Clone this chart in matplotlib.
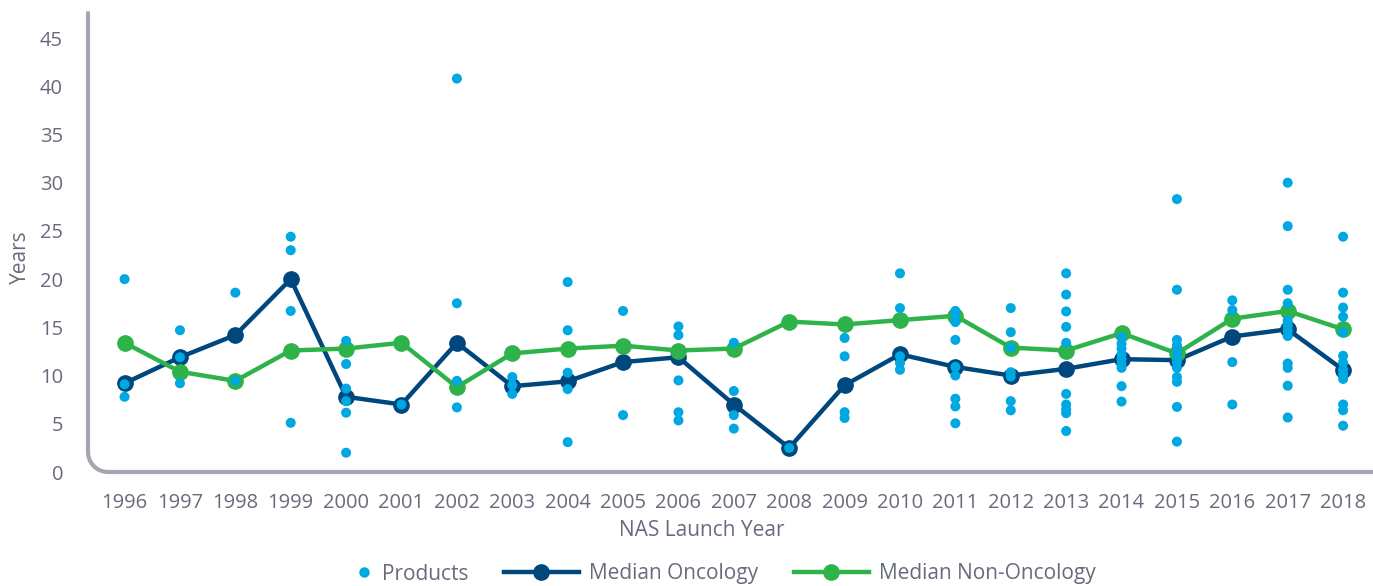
import numpy as np
import matplotlib.pyplot as plt
from matplotlib.lines import Line2D

plt.rcParams['font.family'] = ['Open Sans', 'DejaVu Sans']

years = list(range(1996, 2019))

median_oncology = [9.2, 11.9, 14.2, 20.0, 7.8, 7.0, 13.4, 8.9, 9.4, 11.4, 11.9, 7.0,
                   2.5, 9.0, 12.2, 10.9, 10.0, 10.7, 11.7, 11.6, 14.05, 14.8, 10.6]
median_non_oncology = [13.4, 10.4, 9.45, 12.6, 12.8, 13.4, 8.8, 12.3, 12.8, 13.1, 12.6, 12.8,
                       15.6, 15.3, 15.75, 16.2, 12.9, 12.6, 14.4, 12.3, 15.9, 16.7, 14.8]

products = {
    1996: [20.0, 9.1, 7.8],
    1997: [14.7, 11.9, 9.2],
    1998: [18.6, 9.45],
    1999: [24.4, 23.0, 16.7, 5.1],
    2000: [13.6, 11.2, 8.65, 7.35, 6.15, 2.0],
    2001: [7.0],
    2002: [40.8, 17.5, 9.45, 6.7],
    2003: [9.85, 9.0, 8.1],
    2004: [19.7, 14.7, 10.3, 8.6, 3.1],
    2005: [16.7, 5.9],
    2006: [15.1, 14.2, 9.5, 6.2, 5.35],
    2007: [13.4, 8.4, 5.9, 4.5],
    2008: [2.5],
    2009: [13.9, 12.0, 6.2, 5.6],
    2010: [20.6, 17.0, 12.0, 11.3, 10.6],
    2011: [16.7, 16.2, 15.55, 13.7, 10.9, 10.0, 7.6, 6.8, 5.05],
    2012: [17.0, 14.5, 12.9, 10.35, 9.9, 7.35, 6.4],
    2013: [20.6, 18.4, 16.65, 15.05, 13.4, 8.1, 7.0, 6.5, 6.1, 4.25],
    2014: [14.0, 13.3, 12.8, 12.2, 11.7, 11.2, 10.8, 8.9, 7.3],
    2015: [28.3, 18.9, 13.7, 13.15, 12.55, 12.05, 11.4, 10.8, 9.85, 9.35, 6.75, 3.15],
    2016: [17.8, 16.8, 11.4, 7.0],
    2017: [30.0, 25.5, 18.9, 17.5, 15.7, 15.2, 14.65, 14.1, 11.25, 10.8, 8.95, 5.65],
    2018: [24.4, 18.6, 17.05, 16.1, 14.5, 12.05, 11.35, 10.6, 10.15, 9.65, 7.0, 6.4, 4.8],
}

cyan = '#00a8e1'
navy = '#00477d'
green = '#2eb34b'
text_col = '#676b7c'
spine_col = '#a4a6b0'

px = []
py = []
for yr in years:
    for v in products[yr]:
        px.append(yr)
        py.append(v)

fig = plt.figure(figsize=(13.73, 5.86), dpi=100)
ax = fig.add_axes([88 / 1373, 114 / 586, 1 - 88 / 1373, (472 - 13) / 586])

ax.plot(years, median_oncology, color=navy, lw=3.2, marker='o', ms=11, zorder=3)
ax.plot(years, median_non_oncology, color=green, lw=3.2, marker='o', ms=11, zorder=4)
ax.scatter(px, py, s=52, color=cyan, edgecolors='none', zorder=5)

ax.set_xlim(1995.34, 2018.54)
ax.set_ylim(0, 47.6)
ax.set_xticks(years)
ax.set_yticks(range(0, 50, 5))
ax.tick_params(length=0, labelsize=14.5, colors=text_col)
ax.tick_params(axis='y', pad=18)
ax.tick_params(axis='x', pad=15)
for s in ax.spines.values():
    s.set_visible(False)

# rounded L-shaped axis line, built in pixel terms then mapped to axes fraction
w_px = 1373 - 88
h_px = 472 - 13
r = 20.0
t = np.linspace(np.pi, 1.5 * np.pi, 30)
arc_x = r + r * np.cos(t)
arc_y = r + r * np.sin(t)
path_x = np.concatenate([[0], arc_x, [w_px]]) / w_px
path_y = np.concatenate([[h_px], arc_y, [0]]) / h_px
ax.add_line(Line2D(path_x, path_y, transform=ax.transAxes, color=spine_col,
                   lw=3.0, solid_capstyle='round', clip_on=False, zorder=1))

fig.text(20 / 1373, 1 - 257 / 586, 'Years', rotation=90, ha='center', va='center',
         fontsize=15, color=text_col)
fig.text(702 / 1373, 1 - 531 / 586, 'NAS Launch Year', ha='center', va='center',
         fontsize=15, color=text_col)

h_prod = Line2D([], [], ls='none', marker='o', ms=7.5, color=cyan, markeredgewidth=0)
h_onc = Line2D([], [], color=navy, lw=3.2, marker='o', ms=11)
h_non = Line2D([], [], color=green, lw=3.2, marker='o', ms=11)

leg1 = fig.legend([h_prod], ['Products'], loc='center', bbox_to_anchor=(411 / 1373, 1 - 574 / 586),
                  frameon=False, fontsize=15, handlelength=1.0, handletextpad=0.4,
                  labelcolor=text_col, borderpad=0)
leg2 = fig.legend([h_onc, h_non], ['Median Oncology', 'Median Non-Oncology'], loc='center',
                  bbox_to_anchor=(800 / 1373, 1 - 574 / 586), ncol=2, frameon=False, fontsize=15,
                  handlelength=3.6, handletextpad=0.5, columnspacing=1.7,
                  labelcolor=text_col, borderpad=0)

fig.savefig('out.png', dpi=100)
